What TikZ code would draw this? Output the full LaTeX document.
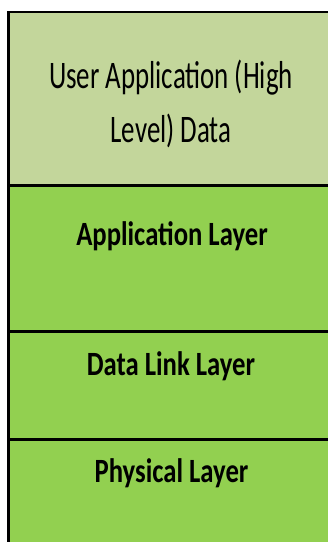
\documentclass[tikz,border=0pt]{standalone}
\usepackage{fontspec}
\setmainfont{Carlito}
\newfontfamily\layerfont[FakeStretch=0.69]{Carlito}
\newfontfamily\layerfontbf[FakeStretch=0.785]{Carlito Bold}
\begin{document}
\begin{tikzpicture}[x=1pt,y=-1pt,
  band/.style={draw=black,line width=2.6pt},
  userband/.style={band,fill=userfill},
  layerband/.style={band,fill=layerfill},
  usertext/.style={font=\layerfont\fontsize{39}{54}\selectfont,
    text width=320pt,anchor=base,inner sep=0pt},
  layertext/.style={font=\layerfontbf\fontsize{34}{40}\selectfont,anchor=base,inner sep=0pt}]
\definecolor{userfill}{HTML}{C3D69B}
\definecolor{layerfill}{HTML}{92D050}
\useasboundingbox (0,0) rectangle (328,542);
\fill[white] (0,0) rectangle (328,542);
\begin{scope}
  \clip (0,0) rectangle (328,542);
  % stacked bands, continuing past the right and bottom edges
  \draw[layerband] (8.7,439.5) rectangle (345,560);
  \draw[layerband] (8.7,331.5) rectangle (345,439.5);
  \draw[layerband] (8.7,185.5) rectangle (345,331.5);
  \draw[userband]  (8.7,12) rectangle (345,185.5);
\end{scope}
\node[usertext]  (user) at (171,88)
  {\spaceskip=6pt\relax\centering User Application (High\\Level) Data\par};
\node[layertext] (app)  at (172,245) {Application Layer};
\node[layertext] (dll)  at (171,375) {Data Link Layer};
\node[layertext] (phy)  at (171.5,482) {Physical Layer};
\end{tikzpicture}
\end{document}
